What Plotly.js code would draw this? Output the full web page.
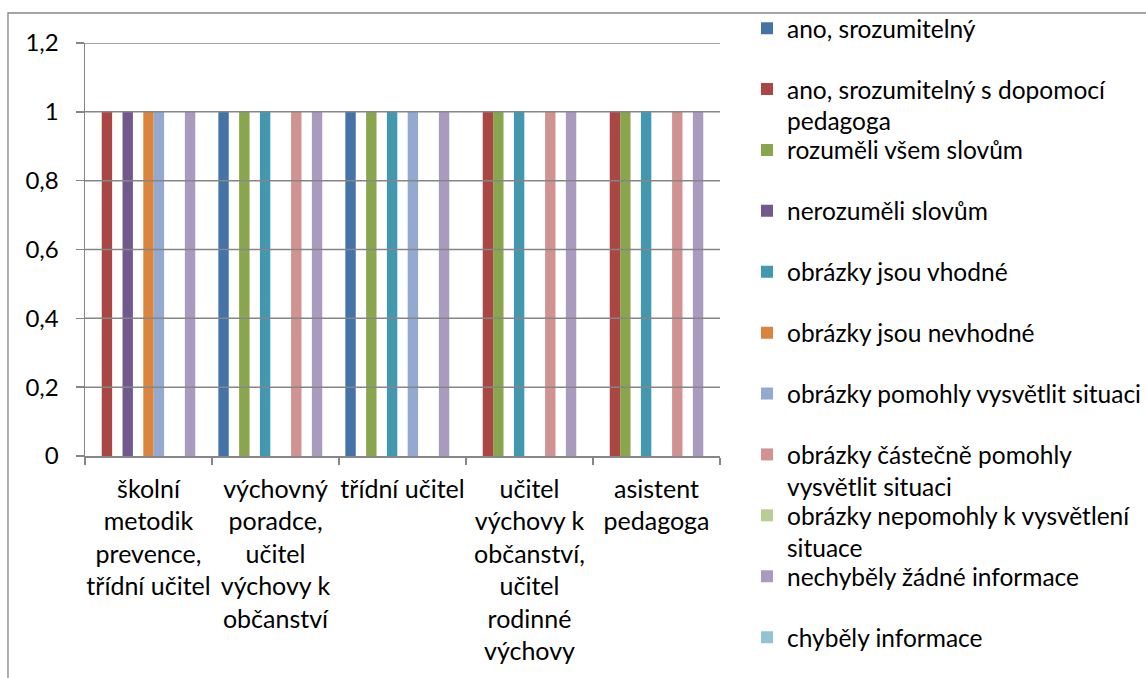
<!DOCTYPE html>
<html>
<head>
<meta charset="utf-8">
<script src="https://cdn.plot.ly/plotly-3.0.1.min.js"></script>
<style>html,body{margin:0;padding:0;background:#fff;}#chart{width:1146px;height:678px;}</style>
</head>
<body>
<div id="chart"></div>
<script>
var categories = [
  "školní<br>metodik<br>prevence,<br>třídní učitel",
  "výchovný<br>poradce,<br>učitel<br>výchovy k<br>občanství",
  "třídní učitel",
  "učitel<br>výchovy k<br>občanství,<br>učitel<br>rodinné<br>výchovy",
  "asistent<br>pedagoga"
];
var seriesNames = [
  "ano, srozumitelný",
  "ano, srozumitelný s dopomocí<br>pedagoga",
  "rozuměli všem slovům",
  "nerozuměli slovům",
  "obrázky jsou vhodné",
  "obrázky jsou nevhodné",
  "obrázky pomohly vysvětlit situaci",
  "obrázky částečně pomohly<br>vysvětlit situaci",
  "obrázky nepomohly k vysvětlení<br>situace",
  "nechyběly žádné informace",
  "chyběly informace"
];
var anoSrozumitelny      = [0, 1, 1, 0, 0];
var anoSDopomoci         = [1, 0, 0, 1, 1];
var rozumeliVsem         = [0, 1, 1, 1, 1];
var nerozumeli           = [1, 0, 0, 0, 0];
var obrazkyVhodne        = [0, 1, 1, 1, 1];
var obrazkyNevhodne      = [1, 0, 0, 0, 0];
var obrazkyPomohly       = [1, 0, 1, 0, 0];
var obrazkyCastecne      = [0, 1, 0, 1, 1];
var obrazkyNepomohly     = [0, 0, 0, 0, 0];
var nechybelyInformace   = [1, 1, 1, 1, 1];
var chybelyInformace     = [0, 0, 0, 0, 0];
var seriesValues = [anoSrozumitelny, anoSDopomoci, rozumeliVsem, nerozumeli, obrazkyVhodne,
  obrazkyNevhodne, obrazkyPomohly, obrazkyCastecne, obrazkyNepomohly, nechybelyInformace, chybelyInformace];
var colors = ["#4572A7","#AA4643","#89A54E","#71588F","#4198AF","#DB843D","#93A9CF","#D19392","#B9CD96","#A99BBD","#91C3D5"];
var yTickVals = [0, 0.2, 0.4, 0.6, 0.8, 1, 1.2];
var yTickText = ["0", "0,2", "0,4", "0,6", "0,8", "1", "1,2"];

var FONT = "Lato, 'Open Sans', sans-serif";
var GRID = "#868686";
var W = 1146, H = 678;
var LEGEND_LEFT = 747, LEGEND_FIRST = 29, LEGEND_STEP = 60.9, LEGEND_OFFSET = 23.3;

function legendId(i) { return i === 0 ? "legend" : "legend" + (i + 1); }

var traces = seriesNames.map(function (name, i) {
  return {
    type: "bar",
    name: name,
    legend: legendId(i),
    x: categories,
    y: seriesValues[i],
    marker: { color: colors[i], line: { width: 0 } },
    hoverinfo: "skip"
  };
});

var shapes = yTickVals.filter(function (v) { return v > 0; }).map(function (v) {
  return { type: "line", layer: "above", xref: "paper", x0: 0, x1: 1, yref: "y", y0: v, y1: v,
           line: { color: GRID, width: 1.5 } };
});
shapes.push({ type: "rect", layer: "below", xref: "paper", yref: "paper",
  x0: -0.1213, x1: 2, y0: -1, y1: 1.0726, line: { color: GRID, width: 1.3 }, fillcolor: "rgba(0,0,0,0)" });

var layout = {
  width: W, height: H,
  margin: { l: 85, r: 426, t: 43, b: 222 },
  paper_bgcolor: "#fff", plot_bgcolor: "#fff",
  font: { family: FONT, size: 25, color: "#000" },
  barmode: "group", bargap: 0.1, bargroupgap: 0,
  showlegend: true,
  xaxis: {
    type: "category", tickson: "boundaries", ticks: "outside", ticklen: 7, tickwidth: 1.5,
    tickcolor: GRID, showline: true, linecolor: GRID, linewidth: 1.5, showgrid: false,
    tickangle: 0, ticklabelstandoff: 10,
    tickfont: { family: FONT, size: 25, color: "#000" }, fixedrange: true
  },
  yaxis: {
    range: [0, 1.2], tickvals: yTickVals, ticktext: yTickText, ticks: "outside", ticklen: 8,
    tickwidth: 1.5, tickcolor: GRID, showline: true, linecolor: GRID, linewidth: 1.5,
    showgrid: false, zeroline: false, ticklabelstandoff: 12,
    tickfont: { family: FONT, size: 24, color: "#000" }, fixedrange: true
  },
  shapes: shapes
};

seriesNames.forEach(function (n, i) {
  var top = LEGEND_FIRST + LEGEND_STEP * i - LEGEND_OFFSET;
  layout[legendId(i)] = {
    xref: "container", yref: "container", x: LEGEND_LEFT / W, y: 1 - top / H,
    xanchor: "left", yanchor: "top", valign: "top",
    font: { family: FONT, size: 24.5, color: "#000" },
    bgcolor: "rgba(0,0,0,0)", borderwidth: 0, itemclick: false, itemdoubleclick: false
  };
});

Plotly.newPlot("chart", traces, layout, { displayModeBar: false, staticPlot: true });
</script>
</body>
</html>
